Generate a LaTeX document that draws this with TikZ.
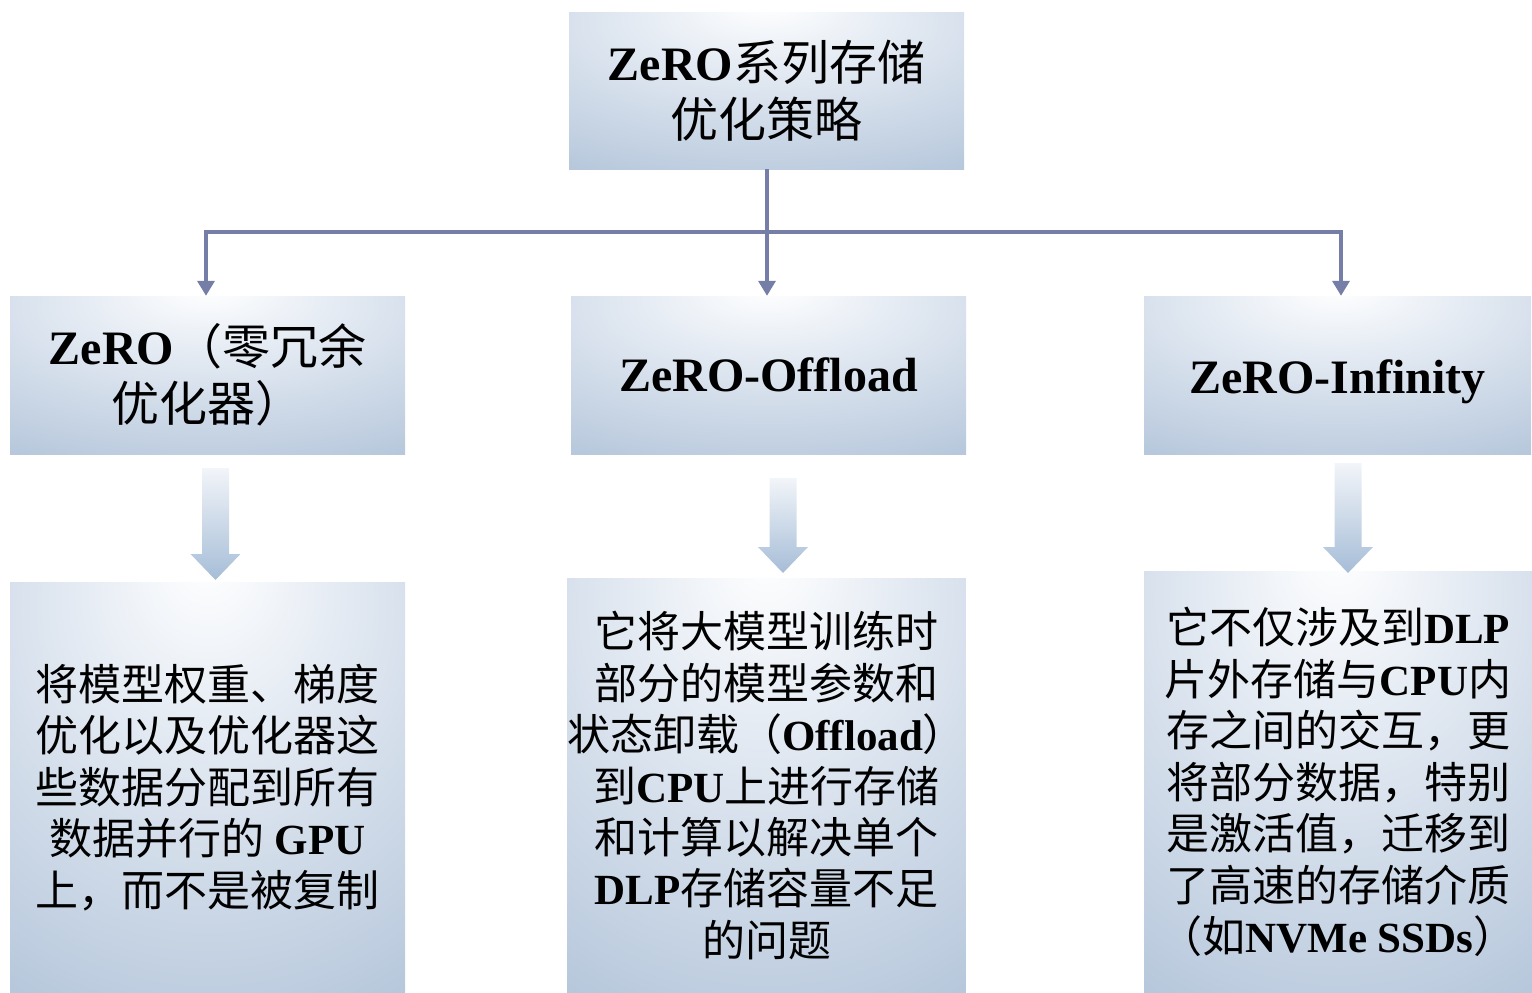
\documentclass[tikz,border=0pt]{standalone}
\usepackage{fontspec}
\setmainfont{Liberation Serif}
\newfontfamily\cjkfont{Noto Sans CJK SC}
\newcommand\zh[1]{{\cjkfont\mdseries #1}}
\usetikzlibrary{arrows.meta}
\definecolor{boxedge}{RGB}{160,182,208}
\definecolor{boxlight}{RGB}{226,233,242}
\definecolor{connc}{RGB}{116,126,166}
\definecolor{arrtop}{RGB}{242,245,249}
\definecolor{arrbot}{RGB}{166,189,215}
\pgfdeclareradialshading{boxshade}{\pgfpoint{0bp}{28bp}}{color(0bp)=(white); color(18bp)=(boxlight); color(62bp)=(boxedge); color(100bp)=(boxedge)}
\tikzset{
  box/.style={rectangle, inner sep=0pt, shading=boxshade, align=center, text=black},
  headfont/.style={font=\bfseries\fontsize{48}{57}\selectfont},
  bodyfont/.style={font=\bfseries\fontsize{43}{51.5}\selectfont},
  conn/.style={draw=connc, line width=3.5pt},
  connarrow/.style={conn, -{Triangle[width=17pt,length=15pt]}},
  blockarrow/.style={top color=arrtop, bottom color=arrbot, draw=none}
}
\begin{document}
\begin{tikzpicture}[x=1pt,y=1pt]
\useasboundingbox (0,0) rectangle (1532,-993);
% boxes
\node[box, headfont, minimum width=395pt, minimum height=157pt] (top) at (766.5,-90.5)
  {ZeRO\zh{系列存储}\\\zh{优化策略}};
\node[box, headfont, minimum width=395pt, minimum height=158pt] (ml) at (207.5,-375)
  {ZeRO\zh{（零冗余}\\\zh{优化器）}};
\node[box, headfont, minimum width=395pt, minimum height=158pt] (mc) at (768.5,-375)
  {ZeRO-Offload};
\node[box, headfont, minimum width=387pt, minimum height=158pt] (mr) at (1337.5,-375)
  {\raisebox{-7pt}[\height][\depth]{ZeRO-Infinity}};
\node[box, bodyfont, minimum width=395pt, minimum height=411pt] (bl) at (207.5,-787.5)
  {\zh{将模型权重、梯度}\\\zh{优化以及优化器这}\\\zh{些数据分配到所有}\\\zh{数据并行的} GPU\\\zh{上，而不是被复制}};
\node[box, bodyfont, minimum width=395pt, minimum height=415pt] (bc) at (766.5,-785.5)
  {\zh{它将大模型训练时}\\\zh{部分的模型参数和}\\\zh{状态卸载（}Offload\zh{）}\\\zh{到}CPU\zh{上进行存储}\\\zh{和计算以解决单个}\\DLP\zh{存储容量不足}\\\zh{的问题}};
\node[box, bodyfont, minimum width=388pt, minimum height=422pt] (br) at (1338,-782)
  {\zh{它不仅涉及到}DLP\\\zh{片外存储与}CPU\zh{内}\\\zh{存之间的交互，更}\\\zh{将部分数据，特别}\\\zh{是激活值，迁移到}\\\zh{了高速的存储介质}\\\zh{（如}NVMe SSDs\zh{）}};
% connectors
\coordinate (hl) at (206,-232);
\coordinate (hr) at (1341,-232);
\coordinate (hc) at (767,-232);
\draw[conn] (top.south -| hc) -- (hc);
\draw[conn, line cap=rect] (hl) -- (hr);
\draw[connarrow] (hl) -- (hl |- ml.north);
\draw[connarrow] (hc) -- (hc |- mc.north);
\draw[connarrow] (hr) -- (hr |- mr.north);
% block arrows
\foreach \cx/\ty/\by in {215.5/468/580, 783/478/573, 1348/463/573}{
  \shade[blockarrow] (\cx-13.5,-\ty) -- (\cx+13.5,-\ty) -- (\cx+13.5,-\by+26) -- (\cx+25,-\by+26)
    -- (\cx,-\by) -- (\cx-25,-\by+26) -- (\cx-13.5,-\by+26) -- cycle;
}
\end{tikzpicture}
\end{document}
